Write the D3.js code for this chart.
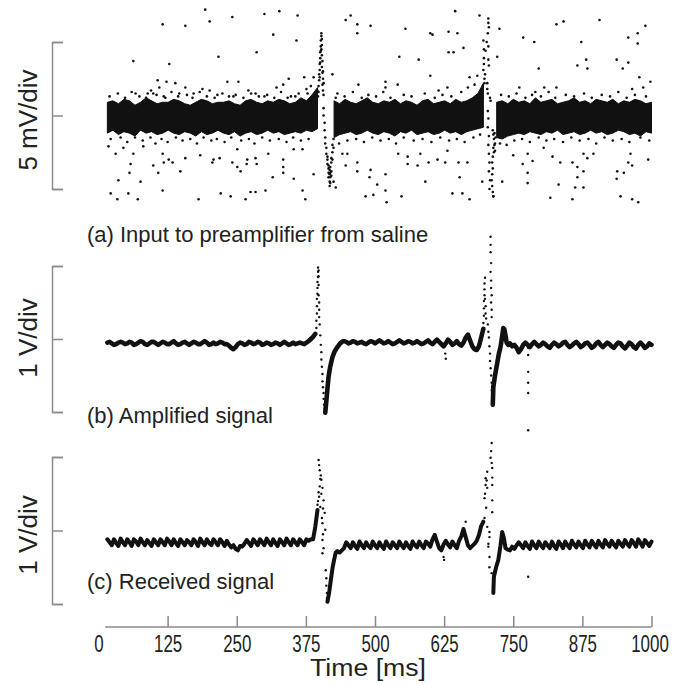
<!DOCTYPE html>
<html lang="en">
<head>
    <meta charset="UTF-8">
    <title>Input, amplified and received signal</title>
    <script src="https://d3js.org/d3.v7.min.js"></script>
    <style>
        body { margin: 0; background: #fff; }
        svg { display: block; }
    </style>
</head>
<body>
    <svg id="chart"></svg>

    <script>
        // ---- data (time in ms, (a) in mV, (b)/(c) in V) ----
        const timeTicks = [0, 125, 250, 375, 500, 625, 750, 875, 1000];
        const panelTitles = ["(a) Input to preamplifier from saline", "(b) Amplified signal", "(c) Received signal"];
        const divLabels = ["5 mV/div", "1 V/div", "1 V/div"];

        // (a) dense noise band, upper / lower edge every 10 ms
        const bandStep = 10;
        const aBand1Start = 16;
        const aBand1Up = [0.9,1.0,0.8,1.1,1.0,0.7,0.9,1.2,1.0,0.8,0.9,0.9,1.1,1.0,0.8,0.7,0.9,1.1,1.0,0.8,0.9,0.9,1.0,0.8,0.7,1.0,1.1,0.9,0.8,1.0,0.9,1.1,1.0,0.8,0.9,1.2,1.0,1.4,1.9];
        const aBand1Lo = [-1.2,-1.0,-1.3,-1.1,-1.2,-1.4,-1.0,-1.2,-1.1,-1.3,-1.2,-1.0,-1.2,-1.3,-1.1,-1.2,-1.4,-1.1,-1.3,-1.2,-1.0,-1.2,-1.3,-1.1,-1.4,-1.2,-1.1,-1.3,-1.2,-1.0,-1.2,-1.1,-1.3,-1.2,-1.1,-1.2,-1.0,-1.1,-0.9];
        const aBand2Start = 426;
        const aBand2Up = [1.0,0.8,1.1,0.9,0.8,1.0,1.2,0.9,0.8,1.0,0.9,1.1,0.8,1.0,0.9,0.7,1.0,1.1,0.8,0.9,1.0,0.8,1.1,0.9,1.0,1.2,1.5,2.2];
        const aBand2Lo = [-1.5,-1.3,-1.2,-1.1,-1.3,-1.2,-1.0,-1.2,-1.3,-1.1,-1.2,-1.4,-1.1,-1.2,-1.0,-1.3,-1.2,-1.1,-1.3,-1.2,-1.0,-1.2,-1.1,-1.3,-1.1,-1.0,-0.9,-0.8];
        const aBand3Start = 720;
        const aBand3Up = [0.9,1.0,0.8,1.1,0.9,1.0,0.8,1.2,0.9,1.0,1.1,0.8,0.9,1.0,1.2,0.9,1.0,0.8,1.1,1.0,0.9,1.1,0.8,1.0,0.9,1.1,1.0,0.8,0.9];
        const aBand3Lo = [-1.5,-1.6,-1.4,-1.3,-1.2,-1.3,-1.1,-1.2,-1.3,-1.1,-1.2,-1.0,-1.3,-1.2,-1.1,-1.3,-1.2,-1.0,-1.2,-1.1,-1.3,-1.2,-1.0,-1.1,-1.3,-1.2,-1.4,-1.1,-1.2];

        // (a) loose samples just outside the band
        const aEdgeDots = [
            [20,1.3],[35,1.5],[48,1.2],[60,1.6],[74,1.3],[86,1.2],[95,1.7],[105,1.4],[121,1.2],[132,1.6],[144,1.3],[160,1.4],[170,1.2],[183,1.6],[196,1.3],[210,1.2],[224,1.5],[236,1.3],[248,1.4],[262,1.2],[276,1.5],[290,1.3],[305,1.4],[318,1.2],[330,1.6],[348,1.3],[362,1.5],[376,1.8],[384,2.0],[432,1.5],[445,1.3],[460,1.6],[476,1.2],[488,1.4],[502,1.3],[515,1.6],[528,1.2],[552,1.4],[566,1.3],[590,1.5],[608,1.2],[622,1.4],[638,1.3],[656,1.6],[668,1.9],[680,2.1],[728,1.4],[742,1.3],[756,1.5],[772,1.2],[784,1.4],[800,1.3],[814,1.6],[826,1.2],[845,1.4],[860,1.3],[878,1.5],[892,1.2],[910,1.4],[925,1.3],[940,1.6],[955,1.2],[970,1.4],[990,1.3],
            [22,-1.6],[40,-1.5],[52,-1.8],[66,-1.5],[80,-1.7],[94,-1.5],[103,-1.9],[114,-1.6],[125,-1.8],[140,-1.5],[152,-1.7],[166,-1.6],[178,-1.9],[190,-1.5],[204,-1.7],[214,-1.6],[228,-1.8],[240,-1.5],[258,-1.7],[272,-1.6],[282,-1.9],[296,-1.5],[310,-1.7],[326,-1.6],[340,-1.8],[352,-1.5],[366,-1.7],[380,-1.6],[435,-1.9],[450,-1.7],[466,-1.6],[480,-1.8],[495,-1.5],[510,-1.7],[525,-1.6],[538,-1.9],[552,-1.5],[570,-1.7],[586,-1.6],[602,-1.8],[618,-1.5],[634,-1.7],[648,-1.6],[662,-1.8],[678,-1.5],[690,-1.3],[726,-1.9],[738,-2.0],[752,-1.7],[766,-1.6],[780,-1.8],[796,-1.5],[810,-1.7],[824,-1.6],[840,-1.8],[855,-1.5],[870,-1.7],[886,-1.6],[900,-1.9],[915,-1.5],[930,-1.7],[946,-1.6],[960,-1.8],[980,-1.5],[996,-1.7]
        ];

        // (a) scattered samples away from the band
        const aOutliers = [
            [193,7.2],[116,6.2],[157,6.1],[201,6.4],[242,6.7],[300,6.9],[327,7.1],[360,6.8],[316,5.5],[358,5.1],[217,4.0],[286,4.3],[63,3.7],[128,3.5],[107,2.4],[123,2.3],[139,2.2],[233,2.3],[253,2.3],[271,1.7],[322,1.9],[334,2.1],[344,2.5],[372,2.6],[389,2.6],[110,1.9],[157,1.9],[188,1.8],[201,1.7],[67,1.5],[89,1.5],[99,1.5],[118,1.3],[146,1.5],[172,1.5],[215,1.4],[244,1.3],[284,1.5],[300,1.3],[342,1.2],[356,1.3],[378,1.5],[423,2.8],[429,1.2],
            [18,-2.1],[31,-2.6],[45,-2.2],[63,-2.6],[81,-2.1],[116,-2.6],[127,-3.0],[157,-2.9],[184,-2.7],[208,-3.0],[219,-2.9],[251,-2.3],[269,-3.0],[284,-2.9],[307,-2.6],[334,-3.0],[353,-2.3],[369,-2.3],[58,-3.3],[99,-3.4],[118,-3.2],[134,-3.2],[148,-3.8],[206,-3.2],[242,-3.2],[251,-3.5],[257,-3.8],[268,-3.3],[286,-3.3],[334,-3.5],[56,-3.9],[108,-3.9],[76,-4.5],[36,-4.4],[315,-4.2],[334,-3.9],[353,-4.3],[389,-4.0],[22,-5.3],[34,-5.7],[54,-5.3],[71,-5.7],[116,-5.1],[181,-5.7],[221,-5.3],[239,-5.5],[266,-5.7],[275,-5.2],[284,-5.2],[302,-5.1],[369,-5.1],[374,-5.7],
            [447,6.5],[456,6.8],[468,6.2],[468,5.6],[492,6.1],[555,5.9],[600,5.6],[604,5.5],[633,5.7],[649,5.6],[645,7.1],[689,6.8],[725,5.9],[768,5.3],[788,5.0],[828,6.2],[841,6.4],[906,6.5],[873,5.0],[975,5.6],[989,6.1],[958,5.3],[975,4.9],[544,4.0],[579,3.8],[633,4.3],[642,4.3],[660,4.6],[721,4.0],[796,3.2],[866,3.4],[882,3.8],[884,3.2],[937,3.8],[948,3.2],[958,3.6],[600,2.7],[671,2.6],[685,2.7],[519,2.3],[541,2.1],[978,2.6],[998,2.3],[761,1.9],[519,1.9],[470,2.1],[631,1.9],[615,1.7],[985,1.9],[965,1.8],[828,1.9],[806,1.9],[790,1.6],
            [441,-2.6],[450,-2.6],[468,-3.2],[447,-3.4],[468,-3.8],[492,-3.7],[490,-4.2],[519,-4.0],[504,-4.7],[519,-5.1],[497,-5.4],[483,-5.5],[521,-5.9],[548,-5.5],[542,-2.6],[559,-2.8],[582,-2.6],[577,-3.4],[559,-3.3],[597,-3.2],[613,-3.0],[631,-2.4],[627,-3.2],[651,-3.2],[667,-3.2],[653,-4.2],[591,-4.5],[640,-5.3],[658,-5.3],[671,-5.7],[694,-4.5],[714,-5.5],[730,-4.5],[750,-2.7],[776,-2.6],[785,-3.1],[767,-3.3],[776,-3.9],[776,-4.6],[805,-2.2],[821,-2.8],[835,-3.2],[857,-3.2],[866,-3.5],[877,-2.6],[895,-2.6],[884,-2.9],[866,-4.2],[862,-4.9],[877,-4.9],[832,-4.7],[817,-5.6],[857,-5.7],[877,-3.8],[938,-3.8],[937,-4.3],[950,-3.9],[958,-3.2],[965,-3.4],[994,-3.0],[962,-2.6],[944,-5.5],[965,-5.7],[976,-5.9]
        ];
        // (a) the two spikes
        const aSpike1 = [
            [398,1.6],[398,2.0],[399,2.4],[399,2.8],[400,3.1],[400,3.5],[401,3.9],[401,4.3],[402,4.7],[402,5.1],[403,5.4],[403,5.6],[404,5.2],[404,4.8],[403,4.5],[404,4.1],[405,3.7],[404,3.3],[405,2.9],[406,2.5],[405,2.1],[406,1.7],[407,1.4],[402,4.4],[401,3.6],[400,2.6],[397,1.3],[396,1.7],[395,1.2],[406,3.0],[407,2.2],
            [407,0.5],[407,0.0],[409,-0.5],[409,-1.0],[410,-1.5],[410,-1.9],[412,-2.2],[412,-2.6],[414,-3.0],[414,-3.3],[414,-2.8],[416,-3.6],[416,-3.9],[416,-4.2],[416,-3.4],[418,-4.5],[418,-4.8],[418,-4.0],[418,-3.7],[419,-4.6],[419,-4.2],[419,-3.9],[419,-3.5],[421,-3.8],[421,-3.2],[421,-2.9],[421,-4.1],[423,-2.5],[423,-2.0],[423,-3.0],[425,-1.6],[425,-2.2],[425,-4.5],[429,-4.9]
        ];
        const aSpike2 = [
            [705,6.6],[705,6.3],[704,5.6],[696,5.1],[705,4.7],[697,3.9],[697,3.5],[696,3.1],[705,3.8],[706,3.4],[698,2.5],[698,2.2],[695,2.0],[694,1.7],[694,1.4],[695,1.2],[703,2.2],[703,1.8],[704,1.5],[708,1.2],[709,1.0],[700,4.4],[702,5.0],[706,6.0],[699,2.8],[697,4.5],
            [704,0.3],[705,-0.2],[704,-0.8],[706,-1.4],[705,-2.0],[706,-2.6],[707,-3.2],[706,-3.8],[708,-4.4],[707,-5.0],[713,-1.0],[714,-1.3],[715,-1.6],[716,-1.2],[717,-1.9],[714,-2.2],[715,-2.5],[713,-2.8],[716,-2.0],[712,-3.2],[713,-3.6],[712,-4.0],[711,-4.4],[712,-4.8],[713,-5.2],[714,-5.5],[718,-1.5],[717,-2.4]
        ];

        // (b) amplified trace, one sample every 4 ms
        const dt = 4;
        const bPreStart = 16;
        const bPre = [-0.05,-0.04,-0.06,-0.08,-0.07,-0.05,-0.04,-0.05,-0.07,-0.06,-0.04,-0.05,-0.08,-0.07,-0.05,-0.03,-0.04,-0.07,-0.08,-0.06,-0.04,-0.04,-0.06,-0.08,-0.06,-0.04,-0.05,-0.07,-0.07,-0.05,-0.03,-0.06,-0.08,-0.07,-0.05,-0.04,-0.06,-0.08,-0.06,-0.04,-0.05,-0.07,-0.07,-0.05,-0.03,-0.05,-0.08,-0.07,-0.05,-0.07,-0.06,-0.04,-0.05,-0.07,-0.07,-0.09,-0.12,-0.14,-0.11,-0.07,-0.05,-0.06,-0.08,-0.07,-0.04,-0.05,-0.07,-0.06,-0.04,-0.05,-0.08,-0.07,-0.05,-0.06,-0.08,-0.07,-0.05,-0.06,-0.08,-0.06,-0.04,-0.06,-0.08,-0.07,-0.05,-0.07,-0.06,-0.05,-0.06,-0.07,-0.05,-0.03,0.00,0.03,0.07];
        const bRec1 = [[410,-1.01],[412,-0.85],[414,-0.68],[416,-0.52],[419,-0.38],[423,-0.25],[427,-0.17],[432,-0.11],[437,-0.06],[442,-0.03]];
        const bMidStart = 444;
        const bMid = [-0.03,-0.04,-0.06,-0.05,-0.03,-0.04,-0.06,-0.05,-0.04,-0.06,-0.07,-0.05,-0.03,-0.04,-0.06,-0.04,-0.02,-0.04,-0.06,-0.05,-0.03,-0.05,-0.07,-0.06,-0.04,-0.02,-0.04,-0.06,-0.05,-0.03,-0.04,-0.06,-0.05,-0.03,-0.05,-0.07,-0.06,-0.04,-0.02,-0.05,-0.07,-0.04,-0.01,-0.04,-0.07,-0.10,-0.06,-0.01,-0.04,-0.08,-0.06,-0.03,-0.07,-0.09,-0.05,0.02,0.06,-0.02,-0.10,-0.14,-0.15,-0.10,0.02,0.14];
        const bRec2 = [[713,-0.90],[714,-0.66],[717,-0.50],[721,-0.33],[724,-0.20],[727,-0.11],[730,0.04],[732,0.15],[734,0.13],[736,0.05],[738,-0.05],[741,-0.08]];
        const bPostStart = 744;
        const bPost = [-0.06,-0.10,-0.08,-0.12,-0.18,-0.14,-0.08,-0.05,-0.08,-0.11,-0.07,-0.04,-0.07,-0.10,-0.08,-0.05,-0.07,-0.10,-0.12,-0.08,-0.05,-0.07,-0.10,-0.08,-0.05,-0.04,-0.08,-0.11,-0.09,-0.06,-0.04,-0.07,-0.11,-0.09,-0.06,-0.05,-0.08,-0.12,-0.10,-0.06,-0.04,-0.08,-0.11,-0.08,-0.05,-0.07,-0.10,-0.12,-0.08,-0.05,-0.06,-0.10,-0.13,-0.09,-0.05,-0.07,-0.11,-0.13,-0.08,-0.05,-0.08,-0.12,-0.10,-0.06,-0.08];
        const bDots = [
            [394,0.15],[394,0.25],[395,0.35],[395,0.45],[395,0.55],[396,0.62],[396,0.70],[396,0.78],[397,0.85],[397,0.92],[397,0.98],[398,0.94],[398,0.86],[398,0.74],[398,0.60],[399,0.50],[399,0.40],[399,0.30],[400,0.20],
            [401,0.05],[402,-0.08],[403,-0.18],[403,-0.28],[404,-0.38],[405,-0.48],[405,-0.58],[406,-0.66],[407,-0.74],[407,-0.82],[408,-0.90],[409,-0.96],
            [627,-0.20],[628,-0.27],
            [696,0.22],[697,0.32],[697,0.42],[697,0.52],[698,0.60],[698,0.68],[698,0.76],[699,0.84],[699,0.55],[700,0.45],[700,0.35],[701,0.28],[709,1.40],[709,1.29],[709,1.19],[710,1.04],[709,0.92],[710,0.80],[710,0.70],[711,0.60],[710,0.50],[711,0.40],[711,0.30],[704,0.20],[705,0.10],
            [706,0.02],[707,-0.10],[708,-0.20],[708,-0.30],[709,-0.40],[710,-0.50],[711,-0.60],[711,-0.70],[712,-0.78],[713,-0.84],[714,-0.80],[712,-0.65],
            [777,-0.12],[777,-0.22],[777,-0.45],[777,-0.60],[777,-0.74],[777,-1.25]
        ];

        // (c) received trace, one sample every 4 ms
        const cPreStart = 16;
        const cPre = [-0.12,-0.16,-0.20,-0.12,-0.17,-0.21,-0.11,-0.16,-0.20,-0.12,-0.16,-0.21,-0.12,-0.15,-0.20,-0.11,-0.16,-0.20,-0.13,-0.17,-0.21,-0.12,-0.16,-0.20,-0.12,-0.16,-0.20,-0.11,-0.15,-0.20,-0.12,-0.17,-0.21,-0.12,-0.16,-0.20,-0.13,-0.16,-0.20,-0.12,-0.16,-0.21,-0.11,-0.16,-0.20,-0.12,-0.17,-0.20,-0.12,-0.16,-0.20,-0.12,-0.16,-0.21,-0.14,-0.19,-0.23,-0.20,-0.25,-0.27,-0.21,-0.22,-0.18,-0.13,-0.17,-0.21,-0.12,-0.16,-0.20,-0.12,-0.16,-0.20,-0.11,-0.16,-0.20,-0.12,-0.17,-0.21,-0.12,-0.16,-0.20,-0.11,-0.16,-0.20,-0.12,-0.16,-0.20,-0.12,-0.16,-0.20,-0.12,-0.14,-0.12,-0.12,0.05,0.28];
        const cRec1 = [[414,-0.97],[417,-0.85],[420,-0.68],[423,-0.52],[426,-0.40],[429,-0.30],[432,-0.28],[436,-0.30],[440,-0.27],[444,-0.24]];
        const cMidStart = 448;
        const cMid = [-0.16,-0.20,-0.24,-0.16,-0.21,-0.25,-0.15,-0.20,-0.24,-0.16,-0.21,-0.24,-0.15,-0.20,-0.24,-0.16,-0.21,-0.25,-0.15,-0.20,-0.24,-0.16,-0.20,-0.24,-0.15,-0.20,-0.24,-0.16,-0.21,-0.25,-0.15,-0.20,-0.23,-0.15,-0.20,-0.24,-0.15,-0.18,-0.22,-0.12,-0.06,-0.15,-0.24,-0.27,-0.19,-0.14,-0.19,-0.23,-0.15,-0.20,-0.24,-0.14,-0.08,0.02,-0.09,-0.20,-0.24,-0.21,-0.18,-0.14,-0.06,0.06,0.12];
        const cRec2 = [[714,-0.85],[715,-0.63],[719,-0.50],[723,-0.40],[727,-0.20],[730,-0.02],[733,-0.10],[736,-0.24],[740,-0.26],[744,-0.27]];
        const cPostStart = 748;
        const cPost = [-0.22,-0.25,-0.20,-0.16,-0.20,-0.24,-0.16,-0.21,-0.25,-0.15,-0.20,-0.24,-0.15,-0.20,-0.24,-0.16,-0.20,-0.24,-0.15,-0.21,-0.25,-0.15,-0.19,-0.24,-0.15,-0.20,-0.24,-0.14,-0.19,-0.23,-0.15,-0.20,-0.24,-0.14,-0.19,-0.23,-0.14,-0.19,-0.23,-0.14,-0.19,-0.23,-0.13,-0.18,-0.22,-0.14,-0.19,-0.23,-0.14,-0.18,-0.22,-0.13,-0.18,-0.22,-0.13,-0.17,-0.22,-0.12,-0.17,-0.22,-0.13,-0.17,-0.21,-0.15];
        const cDots = [
            [398,0.96],[399,0.89],[400,0.82],[402,0.75],[403,0.69],[405,0.58],[398,0.52],[399,0.46],[407,0.41],[401,0.32],[409,0.24],[404,0.17],[405,0.10],[410,0.01],[406,-0.05],[405,-0.13],[407,-0.24],[405,-0.31],[397,0.40],[396,0.35],[400,0.60],[401,0.70],[403,0.50],[406,0.30],
            [411,-0.54],[412,-0.65],[412,-0.75],[413,-0.85],[413,-0.92],[414,-0.97],
            [624,-0.36],[625,-0.40],[664,0.12],
            [711,1.19],[709,0.99],[712,0.85],[703,0.80],[700,0.71],[700,0.62],[712,0.72],[712,0.62],[703,0.58],[698,0.44],[712,0.41],[701,0.31],[712,0.25],[698,0.17],[703,0.05],[707,-0.02],[707,-0.09],[705,-0.18],[705,-0.22],[707,-0.36],[707,-0.50],[711,-0.58],[714,-0.67],[714,-0.75],[710,1.08],[711,0.92],[699,0.50],[702,0.68],
            [777,-0.63]
        ];

        // ---- drawing ----
        const width = 673;
        const height = 684;
        const axisGrey = "#8a8a8a";
        const ink = "#111";

        const svg = d3.select("#chart")
            .attr("width", width)
            .attr("height", height);

        const x = d3.scaleLinear().domain([0, 1000]).range([98.5, 651.5]);
        const yA = d3.scaleLinear().domain([-5, 5]).range([189, 42]);
        const yB = d3.scaleLinear().domain([-1, 1]).range([412, 266]);
        const yC = d3.scaleLinear().domain([-1, 1]).range([604, 457]);

        const sampled = (t0, step, vals) => vals.map((v, i) => [t0 + i * step, v]);

        // scale brackets on the left
        [[yA, [-5, 0, 5]], [yB, [-1, 0, 1]], [yC, [-1, 0, 1]]].forEach(([y, ticks]) => {
            const g = svg.append("g")
                .attr("transform", "translate(52,0)")
                .call(d3.axisRight(y).tickValues(ticks).tickSize(11).tickFormat(""));
            g.selectAll("path, line").attr("stroke", axisGrey).attr("stroke-width", 1.5);
        });

        // panel (a): noise band
        const bandArea = d3.area()
            .x(d => x(d.t))
            .y0(d => yA(d.lo))
            .y1(d => yA(d.up));
        [[aBand1Start, aBand1Up, aBand1Lo], [aBand2Start, aBand2Up, aBand2Lo], [aBand3Start, aBand3Up, aBand3Lo]]
            .forEach(([t0, up, lo]) => {
                const pts = d3.range(Math.min(up.length, lo.length))
                    .map(i => ({ t: t0 + i * bandStep, up: up[i], lo: lo[i] }));
                svg.append("path")
                    .attr("d", bandArea(pts))
                    .attr("fill", ink)
                    .attr("stroke", ink)
                    .attr("stroke-width", 1)
                    .attr("stroke-linejoin", "round");
            });

        svg.append("g")
            .selectAll("circle")
            .data(aEdgeDots.concat(aOutliers, aSpike1, aSpike2))
            .enter()
            .append("circle")
            .attr("cx", d => x(d[0]))
            .attr("cy", d => yA(d[1]))
            .attr("r", 1.3)
            .attr("fill", ink);

        // panels (b) and (c): traces
        const drawTrace = (y, pieces, dots, lineWidth) => {
            const line = d3.line().x(d => x(d[0])).y(d => y(d[1]));
            pieces.forEach(p => {
                svg.append("path")
                    .attr("d", line(p))
                    .attr("fill", "none")
                    .attr("stroke", ink)
                    .attr("stroke-width", lineWidth)
                    .attr("stroke-linejoin", "round")
                    .attr("stroke-linecap", "round");
            });
            svg.append("g")
                .selectAll("circle")
                .data(dots)
                .enter()
                .append("circle")
                .attr("cx", d => x(d[0]))
                .attr("cy", d => y(d[1]))
                .attr("r", 1.2)
                .attr("fill", ink);
        };

        drawTrace(yB, [
            sampled(bPreStart, dt, bPre),
            bRec1.concat(sampled(bMidStart, dt, bMid)),
            bRec2.concat(sampled(bPostStart, dt, bPost))
        ], bDots, 4.6);

        drawTrace(yC, [
            sampled(cPreStart, dt, cPre),
            cRec1.concat(sampled(cMidStart, dt, cMid)),
            cRec2.concat(sampled(cPostStart, dt, cPost))
        ], cDots, 4);

        // time axis
        const axisY = 627;
        const xAxis = svg.append("g")
            .attr("transform", `translate(0,${axisY})`)
            .call(d3.axisBottom(x).tickValues(timeTicks).tickFormat(d3.format("d"))
                .tickSizeInner(-11).tickSizeOuter(0).tickPadding(9));
        xAxis.select(".domain").remove();
        xAxis.selectAll(".tick line").attr("stroke", axisGrey).attr("stroke-width", 1.5);
        xAxis.selectAll(".tick").filter(d => d === 0).select("line").remove();
        xAxis.selectAll(".tick text")
            .attr("fill", "#222")
            .style("font-family", "'Liberation Sans', Arial, sans-serif")
            .style("font-size", "23px")
            .attr("textLength", d => String(d).length * 9.4)
            .attr("lengthAdjust", "spacingAndGlyphs");
        // last label sits a little left of its tick, as in the figure
        xAxis.selectAll(".tick").filter(d => d === 1000).select("text").attr("dx", -2);
        svg.append("line")
            .attr("x1", x(12)).attr("x2", x(1000))
            .attr("y1", axisY).attr("y2", axisY)
            .attr("stroke", axisGrey)
            .attr("stroke-width", 1.5);

        svg.append("text")
            .attr("x", 368)
            .attr("y", 676)
            .attr("text-anchor", "middle")
            .attr("textLength", 116)
            .attr("lengthAdjust", "spacingAndGlyphs")
            .attr("fill", "#222")
            .style("font-family", "'Liberation Sans', Arial, sans-serif")
            .style("font-size", "23px")
            .text("Time [ms]");

        // titles and per-division labels
        const titleY = [242, 423, 589];
        const divY = [120, 338, 535];
        panelTitles.forEach((t, i) => {
            svg.append("text")
                .attr("x", 87)
                .attr("y", titleY[i])
                .attr("fill", "#222")
                .style("font-family", "'Liberation Sans', Arial, sans-serif")
                .style("font-size", "22px")
                .text(t);
            svg.append("text")
                .attr("transform", `translate(37,${divY[i]}) rotate(-90)`)
                .attr("text-anchor", "middle")
                .attr("fill", "#222")
                .style("font-family", "'Liberation Sans', Arial, sans-serif")
                .style("font-size", "26px")
                .text(divLabels[i]);
        });
    </script>
</body>
</html>
